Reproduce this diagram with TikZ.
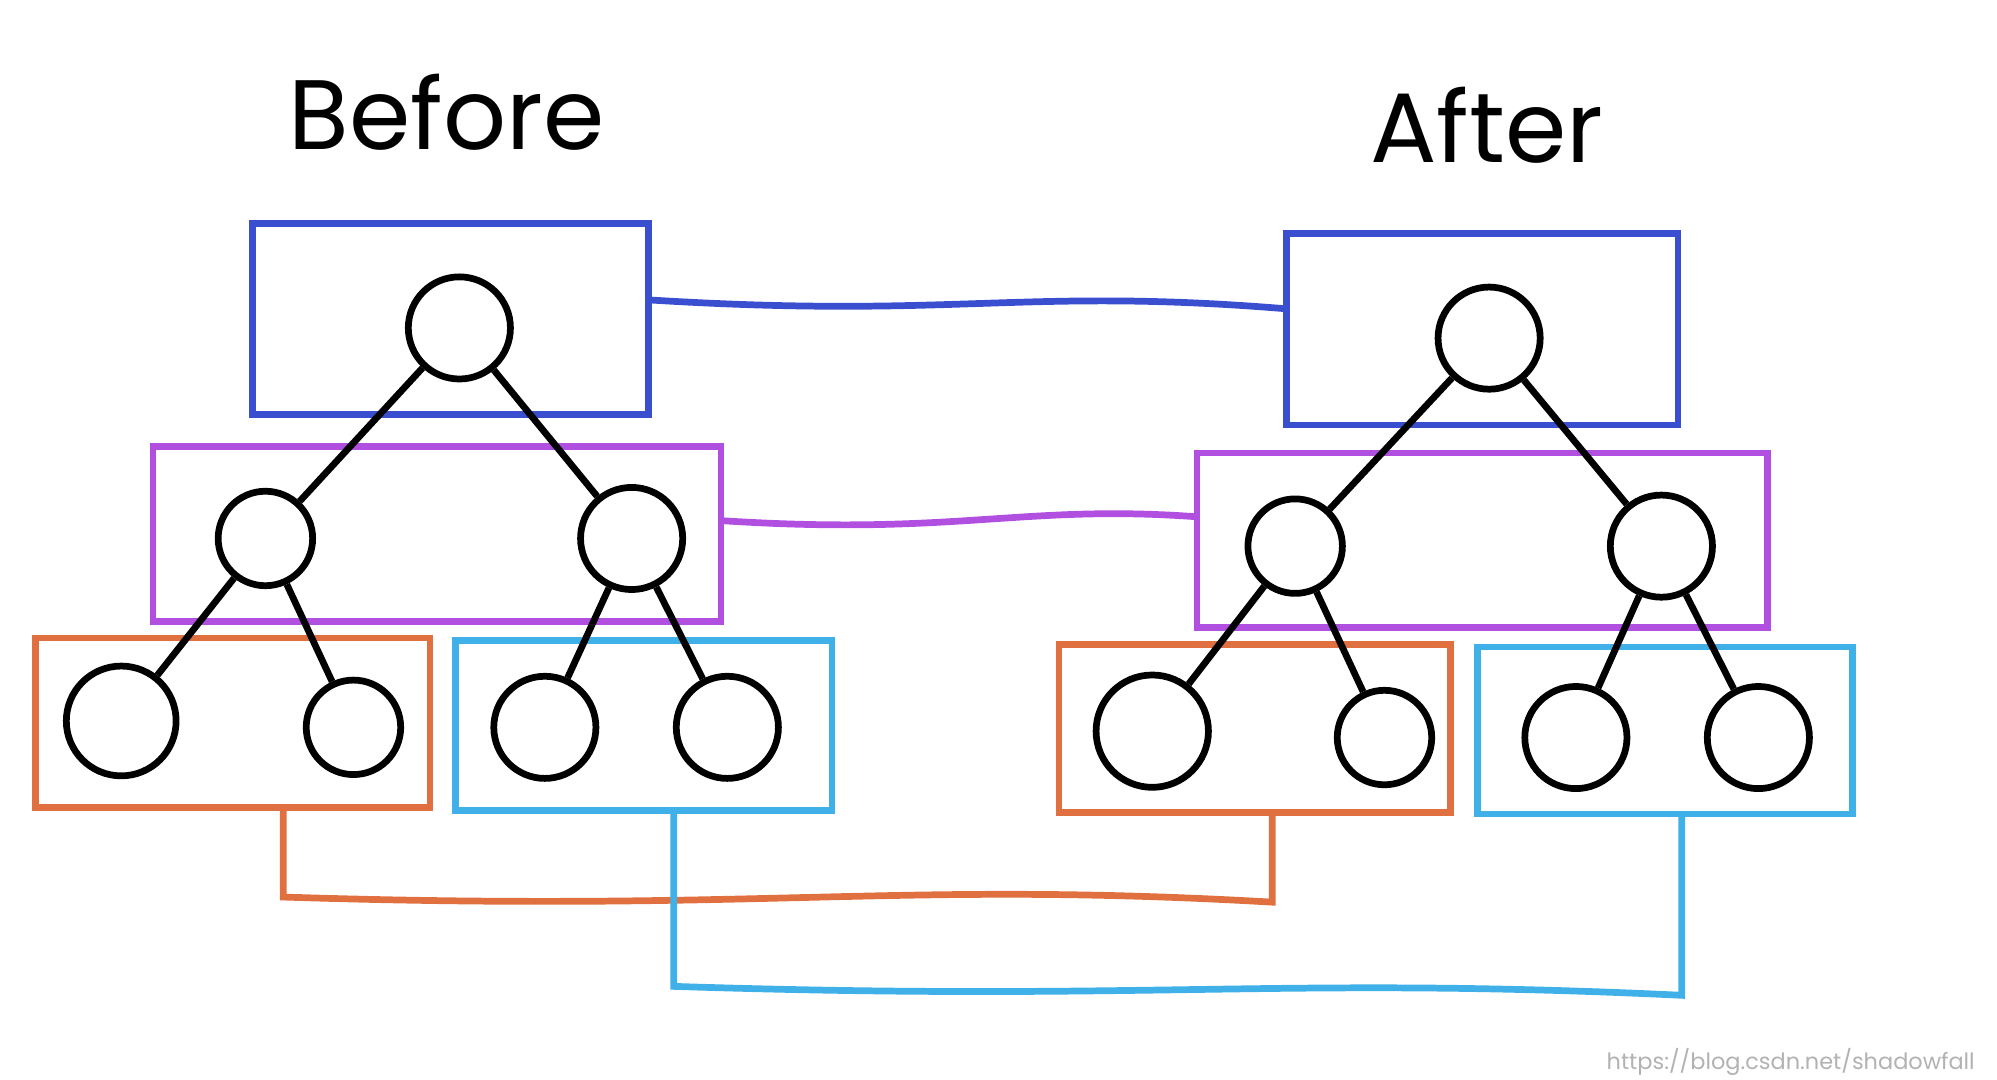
\documentclass[tikz,border=0pt]{standalone}
\usepackage{fontspec}
\setmainfont{Poppins}
\begin{document}
\begin{tikzpicture}[x=0.01cm,y=-0.01cm,
  bx/.style={line width=1.5pt},
  cn/.style={circle,draw=black,line width=1.5pt,inner sep=0pt},
  ed/.style={line width=1.5pt,black},
  ttl/.style={font=\fontsize{22}{26}\selectfont}]
\useasboundingbox (0,0) rectangle (1565,846);
\definecolor{cb}{HTML}{3A4FD0}\definecolor{cp}{HTML}{B04FE0}
\definecolor{co}{HTML}{E07040}\definecolor{cc}{HTML}{40B0E8}
\node[ttl] (tb) at (350,88) {Before};
\node[ttl] (ta) at (1165,98) {After};
% boxes
\draw[bx,cb] (198,175) rectangle (508,325);
\draw[bx,cb] (1008,183) rectangle (1315,333);
\draw[bx,cp] (120,350) rectangle (565,487);
\draw[bx,cp] (938,355) rectangle (1385,492);
\draw[bx,co] (28,500) rectangle (337,633);
\draw[bx,co] (830,505) rectangle (1137,637);
\draw[bx,cc] (357,502) rectangle (652,635);
\draw[bx,cc] (1158,507) rectangle (1452,638);
% connectors
\coordinate (b1) at (508,235); \coordinate (b2) at (1008,242);
\draw[bx,cb] (b1) .. controls (750,250) and (800,225) .. (b2);
\coordinate (p1) at (565,408); \coordinate (p2) at (938,405);
\draw[bx,cp] (p1) .. controls (750,420) and (800,395) .. (p2);
\coordinate (o1) at (222,633); \coordinate (o2) at (997,637);
\draw[bx,co] (o1) -- (222,703) .. controls (600,715) and (700,690) .. (997,707) -- (o2);
\coordinate (c1) at (528,635); \coordinate (c2) at (1318,638);
\draw[bx,cc] (c1) -- (528,773) .. controls (900,785) and (1000,765) .. (1318,780) -- (c2);
% circles left
\node[cn,minimum size=8mm] (r) at (360,257) {};
\node[cn,minimum size=7.4mm] (m1) at (208,422) {};
\node[cn,minimum size=8mm] (m2) at (495,422) {};
\node[cn,minimum size=8.6mm] (l1) at (95,565) {};
\node[cn,minimum size=7.4mm] (l2) at (277,570) {};
\node[cn,minimum size=8mm] (l3) at (427,570) {};
\node[cn,minimum size=8mm] (l4) at (570,570) {};
\draw[ed] (r)--(m1) (r)--(m2) (m1)--(l1) (m1)--(l2) (m2)--(l3) (m2)--(l4);
% circles right
\node[cn,minimum size=8mm] (R) at (1167,265) {};
\node[cn,minimum size=7.4mm] (M1) at (1015,428) {};
\node[cn,minimum size=8mm] (M2) at (1302,428) {};
\node[cn,minimum size=8.8mm] (L1) at (903,573) {};
\node[cn,minimum size=7.4mm] (L2) at (1085,578) {};
\node[cn,minimum size=8mm] (L3) at (1235,578) {};
\node[cn,minimum size=8mm] (L4) at (1378,578) {};
\draw[ed] (R)--(M1) (R)--(M2) (M1)--(L1) (M1)--(L2) (M2)--(L3) (M2)--(L4);
\node[gray!60,font=\fontsize{5}{6}\selectfont,anchor=east] (wm) at (1560,832) {https://blog.csdn.net/shadowfall};
\end{tikzpicture}
\end{document}
